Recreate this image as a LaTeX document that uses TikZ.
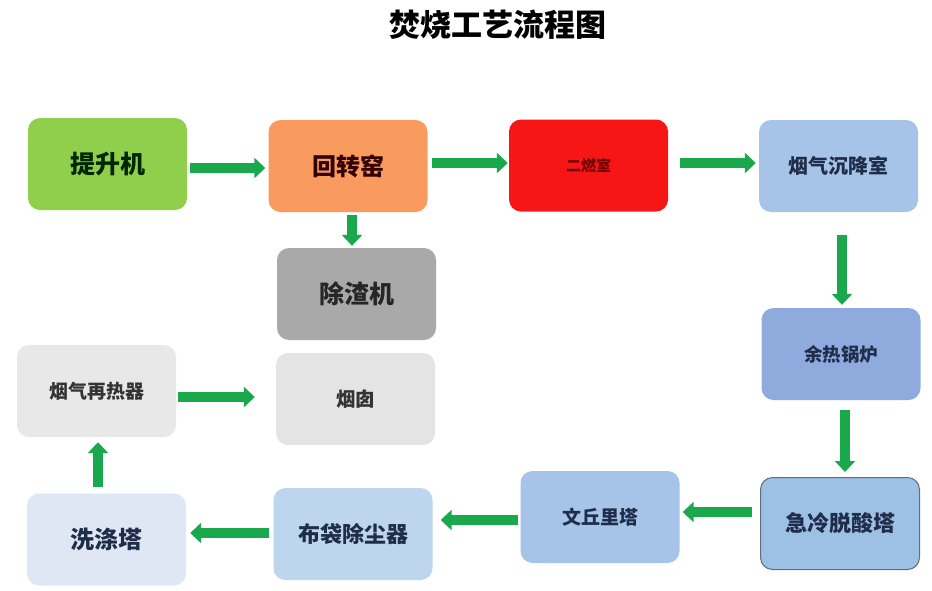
\documentclass[tikz,border=0pt]{standalone}
\usepackage{fontspec}
\setmainfont{Noto Sans CJK SC}
\usetikzlibrary{arrows.meta,calc}
\definecolor{arrg}{HTML}{19A84C}
\definecolor{cgreen}{HTML}{8FCF4C}
\definecolor{corange}{HTML}{F99A5E}
\definecolor{cred}{HTML}{F71616}
\definecolor{cblueA}{HTML}{A6C4E7}
\definecolor{cperi}{HTML}{8FAADC}
\definecolor{cblueB}{HTML}{9DC0E5}
\definecolor{cblueC}{HTML}{A5C4E8}
\definecolor{cblueD}{HTML}{BDD6EE}
\definecolor{cblueE}{HTML}{DFE7F4}
\definecolor{cgrayL}{HTML}{E8E8E8}
\definecolor{cgrayM}{HTML}{E4E4E4}
\definecolor{cgrayD}{HTML}{A9A9A9}
\definecolor{navy}{HTML}{1F2D4A}
\tikzset{
  box/.style={rounded corners=12pt, minimum width=159pt, minimum height=92pt, inner sep=0pt, text=navy},
  fs/.style={font=\fontsize{#1}{#1}\selectfont\bfseries},
  arr/.style={draw=arrg, line width=10pt, -{Triangle[length=11pt,width=20pt]}}
}
\begin{document}
\begin{tikzpicture}[x=1pt,y=-1pt]
\useasboundingbox[fill=white] (0,0) rectangle (932,590);
\node[fs=31] (title) at (498,25) {焚烧工艺流程图};
\node[box, fill=cgreen, text=black!85!green, fs=25] (tisheng) at (107.5,164) {提升机};
\node[box, fill=corange, text=black!80!red, fs=24] (huizhuan) at (348,166) {回转窑};
\node[box, fill=cred, text=red!45!black, fs=15] (erran) at (588.5,165.5) {二燃室};
\node[box, fill=cblueA, fs=20] (chenjiang) at (838.5,166) {烟气沉降室};
\node[box, fill=cgrayD, text=black!85, fs=25] (chuzha) at (356.5,294) {除渣机};
\node[box, fill=cperi, fs=18.5] (yure) at (841,354) {余热锅炉};
\node[box, fill=cblueB, draw=navy!70, line width=1pt, fs=22] (jileng) at (840,523.5) {急冷脱酸塔};
\node[box, fill=cblueC, fs=19] (wenqiu) at (600,517) {文丘里塔};
\node[box, fill=cblueD, fs=22] (budai) at (353,534) {布袋除尘器};
\node[box, fill=cblueE, fs=24] (xidi) at (106.5,539.5) {洗涤塔};
\node[box, fill=cgrayL, text=black!80, fs=19] (zaire) at (96.5,391) {烟气再热器};
\node[box, fill=cgrayM, text=black!80, fs=19.5] (yancong) at (355.5,399) {烟囱};
\draw[arr] ($(tisheng.east)+(3,4)$) -- ($(huizhuan.west)+(-3,2)$);
\draw[arr] ($(huizhuan.east)+(4,-3)$) -- ($(erran.west)+(-1,-2.5)$);
\draw[arr] ($(erran.east)+(12,-2.5)$) -- ($(chenjiang.west)+(-3,-3)$);
\draw[arr] ($(huizhuan.south)+(4,3)$) -- ($(chuzha.north)+(-4.5,-2)$);
\draw[arr] ($(chenjiang.south)+(3.5,23)$) -- ($(yure.north)+(1,-3)$);
\draw[arr] ($(yure.south)+(4,10)$) -- ($(jileng.north)+(5,-5)$);
\draw[arr] ($(jileng.west)+(-8,-11.5)$) -- ($(wenqiu.east)+(3,-5)$);
\draw[arr] ($(wenqiu.west)+(-2,3)$) -- ($(budai.east)+(8,-14)$);
\draw[arr] ($(budai.west)+(-4,-1)$) -- ($(xidi.east)+(4,-6.5)$);
\draw[arr] ($(xidi.north)+(-8.5,-6)$) -- ($(zaire.south)+(1.5,5)$);
\draw[arr] ($(zaire.east)+(2,6)$) -- ($(yancong.west)+(-21,-2)$);
\end{tikzpicture}
\end{document}
